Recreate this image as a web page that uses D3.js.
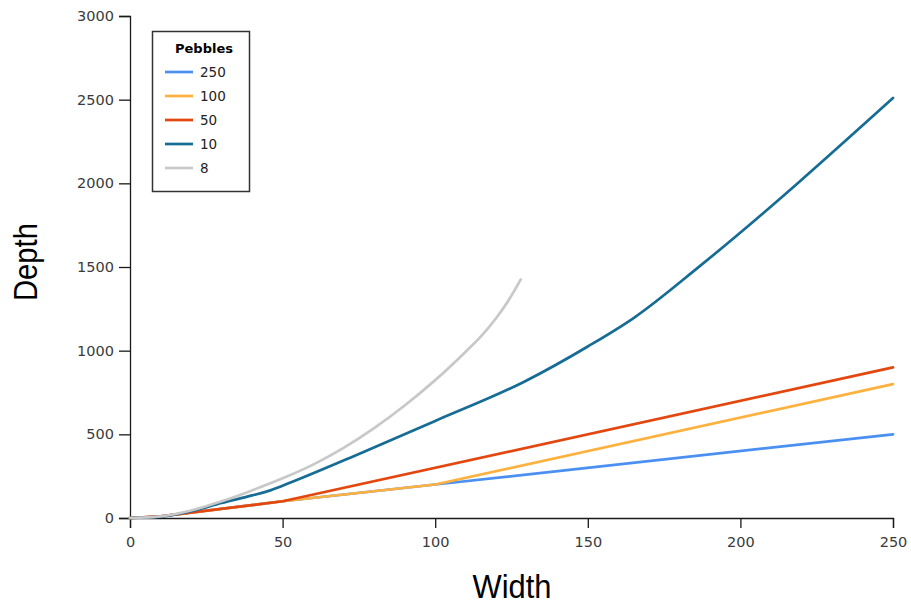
<!DOCTYPE html>
<html>
<head>
<meta charset="utf-8">
<script src="https://cdn.jsdelivr.net/npm/d3@7"></script>
<style>
  html, body { margin: 0; padding: 0; background: #fff; }
  svg { display: block; }
</style>
</head>
<body>
<svg id="chart" width="911" height="605"></svg>
<script>
// ---- data ----
const seriesNames = ["250", "100", "50", "10", "8"];
const seriesColors = ["#4a90f2", "#ffb13f", "#e3470f", "#166c95", "#c8c8c8"];

const widths250 = [0, 10, 50, 100, 250];
const depths250 = [0, 10, 100, 200, 500];

const widths100 = [0, 10, 50, 100, 250];
const depths100 = [0, 10, 100, 200, 800];

const widths50 = [0, 10, 50, 250];
const depths50 = [0, 10, 100, 900];

const widths10 = [0, 10, 20, 30, 40, 46, 53, 75, 100, 129, 150, 165, 187, 250];
const depths10 = [0, 8, 40, 90, 135, 165, 215, 383, 580, 813, 1025, 1195, 1510, 2510];

const widths8 = [0, 10, 20, 30, 40, 50, 60, 70, 80, 90, 100, 110, 115, 120, 124, 128];
const depths8 = [0, 10, 45, 100, 165, 237, 319, 419, 537, 672, 824, 994, 1085, 1195, 1300, 1425];

const xTicks = [0, 50, 100, 150, 200, 250];
const yTicks = [0, 500, 1000, 1500, 2000, 2500, 3000];
const xTitle = "Width";
const yTitle = "Depth";
const legendTitle = "Pebbles";

const seriesWidths = [widths250, widths100, widths50, widths10, widths8];
const seriesDepths = [depths250, depths100, depths50, depths10, depths8];
const smoothSeries = ["10", "8"];

// ---- chart ----
const svg = d3.select("#chart");
const x = d3.scaleLinear().domain([0, 250]).range([130, 893]);
const y = d3.scaleLinear().domain([0, 3000]).range([518, 16]);

const tickFont = "'DejaVu Sans', Verdana, sans-serif";

// axes
const xAxis = svg.append("g").attr("transform", `translate(0,${y(0)})`)
  .call(d3.axisBottom(x).tickValues(xTicks).tickFormat(d3.format("d"))
    .tickSizeOuter(0).tickSize(10).tickPadding(9));
const yAxis = svg.append("g").attr("transform", `translate(${x(0)},0)`)
  .call(d3.axisLeft(y).tickValues(yTicks).tickFormat(d3.format("d"))
    .tickSizeOuter(0).tickSize(11).tickPadding(5));
[xAxis, yAxis].forEach(g => {
  g.selectAll("path.domain").attr("stroke", "#1a1a1a").attr("stroke-width", 1.3);
  g.selectAll(".tick line").attr("stroke", "#1a1a1a").attr("stroke-width", 1.3);
  g.selectAll(".tick text").attr("fill", "#3a3a3a")
    .style("font-family", tickFont).style("font-size", "14.5px");
});

// lines
const lineStraight = d3.line().x(d => x(d[0])).y(d => y(d[1])).curve(d3.curveLinear);
const lineSmooth = d3.line().x(d => x(d[0])).y(d => y(d[1])).curve(d3.curveMonotoneX);

seriesNames.forEach((name, i) => {
  const pts = seriesWidths[i].map((w, j) => [w, seriesDepths[i][j]]);
  svg.append("path")
    .datum(pts)
    .attr("d", smoothSeries.includes(name) ? lineSmooth : lineStraight)
    .attr("fill", "none")
    .attr("stroke", seriesColors[i])
    .attr("stroke-width", 2.7)
    .attr("stroke-linejoin", "round")
    .attr("stroke-linecap", "round");
});

// axis titles
svg.append("text")
  .attr("x", 512).attr("y", 598)
  .attr("text-anchor", "middle")
  .attr("textLength", 79).attr("lengthAdjust", "spacingAndGlyphs")
  .style("font-family", "'Liberation Sans', Arial, sans-serif")
  .style("font-size", "34px")
  .attr("fill", "#000")
  .text(xTitle);

svg.append("text")
  .attr("transform", "translate(37,262) rotate(-90)")
  .attr("text-anchor", "middle")
  .attr("textLength", 78).attr("lengthAdjust", "spacingAndGlyphs")
  .style("font-family", "'Liberation Sans', Arial, sans-serif")
  .style("font-size", "33px")
  .attr("fill", "#000")
  .text(yTitle);

// legend
const lg = svg.append("g");
lg.append("rect")
  .attr("x", 152.5).attr("y", 31.5).attr("width", 97).attr("height", 160)
  .attr("fill", "#fff").attr("stroke", "#333").attr("stroke-width", 1.5);
lg.append("text")
  .attr("x", 204).attr("y", 53)
  .attr("text-anchor", "middle")
  .style("font-family", tickFont).style("font-size", "13px").style("font-weight", "bold")
  .attr("fill", "#000")
  .text(legendTitle);
const legendY = d3.scalePoint().domain(seriesNames).range([72, 168]);
seriesNames.forEach((name, i) => {
  const yy = legendY(name);
  lg.append("line")
    .attr("x1", 165).attr("x2", 193).attr("y1", yy).attr("y2", yy)
    .attr("stroke", seriesColors[i]).attr("stroke-width", 2.7);
  lg.append("text")
    .attr("x", 200).attr("y", yy + 5)
    .style("font-family", tickFont).style("font-size", "13.5px")
    .attr("fill", "#222")
    .text(name);
});
</script>
</body>
</html>
